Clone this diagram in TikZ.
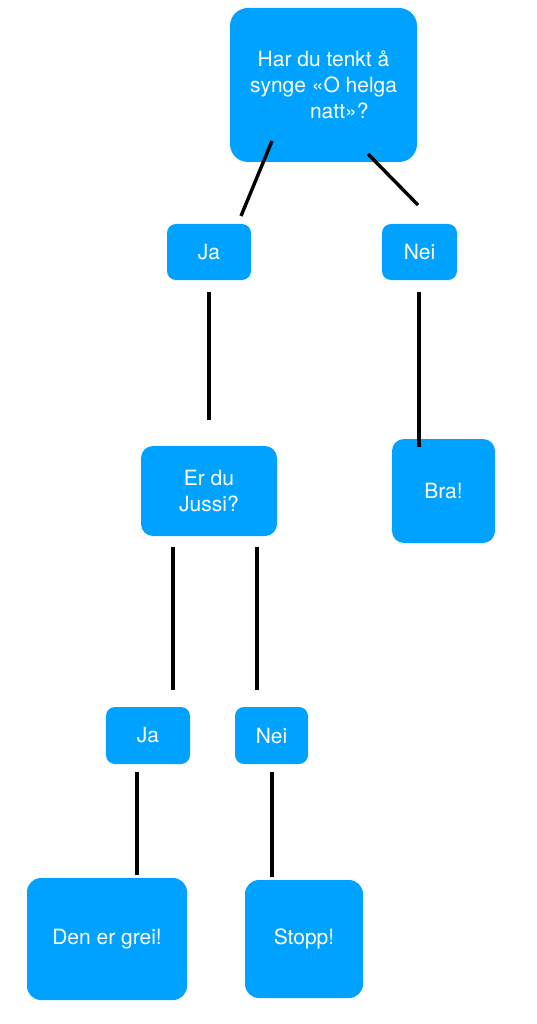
\documentclass[tikz,border=0pt]{standalone}
\usepackage{fontspec}
\setmainfont{TeX Gyre Heros}
\usepackage{tikz}
\usetikzlibrary{calc}
\definecolor{boxB}{RGB}{0,162,255}
\tikzset{
  box/.style={fill=boxB, text=white, rounded corners=9pt, inner sep=0pt,
    font=\fontsize{21}{26}\selectfont, align=center},
  link/.style={line width=3.4pt, black}
}
\begin{document}
\begin{tikzpicture}[x=1pt, y=-1pt]
\fill[white] (0,0) rectangle (536,1024);
\useasboundingbox (0,0) rectangle (536,1024);
% question
\node[box, rounded corners=18pt, minimum width=187pt, minimum height=154pt] (har) at (323.5,85) {Har du tenkt å\\synge «O helga\\\hspace*{1.5em}natt»?};
% first answers
\node[box, minimum width=84pt, minimum height=56pt] (ja1) at (209,252) {Ja};
\node[box, minimum width=75pt, minimum height=56pt] (nei1) at (419.5,252) {Nei};
% second level
\node[box, rounded corners=12pt, minimum width=136pt, minimum height=90pt] (jussi) at (209,491) {Er du\\Jussi?};
\node[box, rounded corners=12pt, minimum width=103pt, minimum height=104pt] (bra) at (443.5,491) {Bra!};
% second answers
\node[box, minimum width=84pt, minimum height=57pt] (ja2) at (148,735.5) {Ja};
\node[box, minimum width=73pt, minimum height=57pt] (nei2) at (271.5,735.5) {Nei};
% endings
\node[box, rounded corners=14pt, minimum width=160pt, minimum height=122pt] (grei) at (107,939) {Den er grei!};
\node[box, rounded corners=14pt, minimum width=118pt, minimum height=118pt] (stopp) at (304,939) {Stopp!};
% connectors
\draw[link] ($(har)+(-51.5,56)$) -- ($(ja1)+(32,-36)$);
\draw[link] ($(har)+(44.5,69)$) -- ($(nei1)+(-1.5,-47)$);
\draw[link] ($(ja1.south)+(0,12)$) -- ($(jussi.north)+(0,-26)$);
\draw[link] ($(nei1.south)+(-0.5,12)$) -- ($(bra.north)+(-24.5,8)$);
\draw[link] ($(jussi.south)+(-36,11)$) -- ($(ja2.north)+(25,-17)$);
\draw[link] ($(jussi.south)+(48,11)$) -- ($(nei2.north)+(-14.5,-17)$);
\draw[link] ($(ja2.south)+(-11,8)$) -- ($(grei.north)+(30,-3)$);
\draw[link] ($(nei2.south)+(0.5,8)$) -- ($(stopp.north)+(-32,-3)$);
\end{tikzpicture}
\end{document}
